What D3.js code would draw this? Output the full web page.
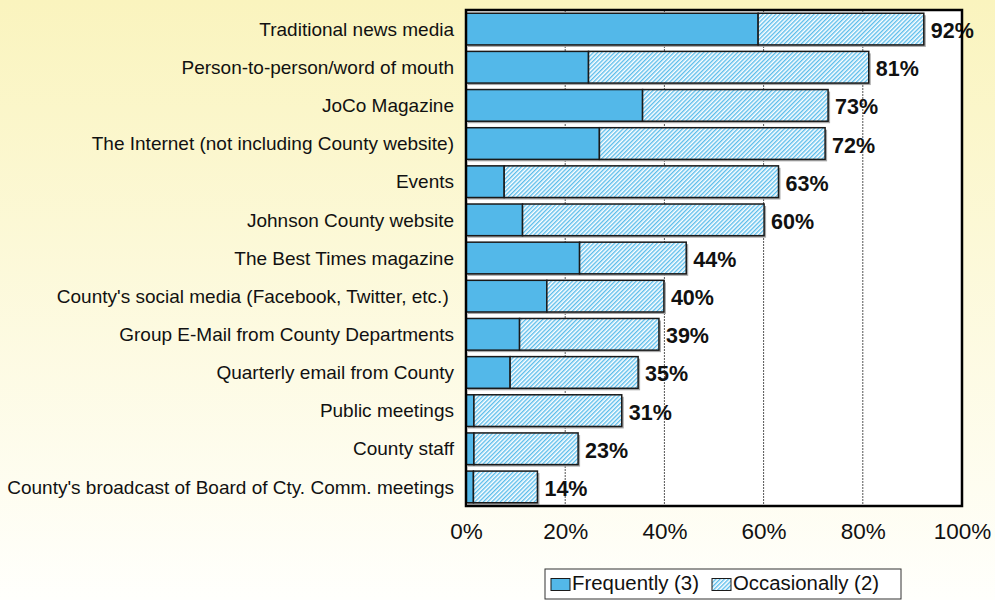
<!DOCTYPE html>
<html>
<head>
<meta charset="utf-8">
<script src="https://cdnjs.cloudflare.com/ajax/libs/d3/7.8.5/d3.min.js"></script>
<style>
  html, body { margin: 0; padding: 0; }
  body { width: 995px; height: 600px; overflow: hidden; }
  svg { display: block; }
  text { font-family: "Liberation Sans", Arial, sans-serif; }
</style>
</head>
<body>
<script>
const categories = [
  "Traditional news media",
  "Person-to-person/word of mouth",
  "JoCo Magazine",
  "The Internet (not including County website)",
  "Events",
  "Johnson County website",
  "The Best Times magazine",
  "County's social media (Facebook, Twitter, etc.) ",
  "Group E-Mail from County Departments",
  "Quarterly email from County",
  "Public meetings",
  "County staff",
  "County's broadcast of Board of Cty. Comm. meetings"
];
const frequently   = [58.9, 24.7, 35.6, 26.9, 7.7, 11.4, 22.9, 16.3, 10.8, 8.9, 1.6, 1.6, 1.5];
const occasionally = [33.4, 56.5, 37.4, 45.5, 55.3, 48.7, 21.5, 23.6, 28.1, 25.8, 29.8, 21.0, 12.9];
const xTicks = [0, 20, 40, 60, 80, 100];
const seriesNames = ["Frequently (3)", "Occasionally (2)"];

const W = 995, H = 600;
const plot = { left: 466, right: 962, top: 10, bottom: 506 };
const blue = "#53B8E9";

const svg = d3.select("body").append("svg").attr("width", W).attr("height", H);
const defs = svg.append("defs");

const bg = defs.append("linearGradient").attr("id", "bg").attr("x1", 0).attr("y1", 0).attr("x2", 0).attr("y2", 1);
bg.append("stop").attr("offset", "0%").attr("stop-color", "#FAF4BE");
bg.append("stop").attr("offset", "100%").attr("stop-color", "#FFFFFC");

const hatch = defs.append("pattern").attr("id", "hatch").attr("patternUnits", "userSpaceOnUse")
  .attr("width", 3).attr("height", 3).attr("patternTransform", "rotate(45)");
hatch.append("rect").attr("width", 3).attr("height", 3).attr("fill", "#ffffff");
hatch.append("rect").attr("width", 1.4).attr("height", 3).attr("fill", "#5BBDEB");

svg.append("rect").attr("width", W).attr("height", H).attr("fill", "url(#bg)");

const x = d3.scaleLinear().domain([0, 100]).range([plot.left, plot.right]);
const y = d3.scaleBand().domain(categories).range([plot.top, plot.bottom])
  .paddingInner(0.17).paddingOuter(0.085);

// plot background
svg.append("rect").attr("x", plot.left).attr("y", plot.top)
  .attr("width", plot.right - plot.left).attr("height", plot.bottom - plot.top).attr("fill", "#fff");

// gridlines
svg.append("g").selectAll("line").data(xTicks.slice(1, -1)).join("line")
  .attr("x1", d => x(d)).attr("x2", d => x(d))
  .attr("y1", plot.top).attr("y2", plot.bottom)
  .attr("stroke", "#555").attr("stroke-width", 1).attr("stroke-dasharray", "2,1");

const rows = categories.map((c, i) => ({ c, f: frequently[i], o: occasionally[i], t: frequently[i] + occasionally[i] }));

// shadows
svg.append("g").selectAll("rect").data(rows).join("rect")
  .attr("x", x(0) + 2).attr("y", d => y(d.c) + 2)
  .attr("width", d => x(d.t) - x(0)).attr("height", y.bandwidth())
  .attr("fill", "#a8a8a8");

// frequently
svg.append("g").selectAll("rect").data(rows).join("rect")
  .attr("x", x(0)).attr("y", d => y(d.c))
  .attr("width", d => x(d.f) - x(0)).attr("height", y.bandwidth())
  .attr("fill", blue).attr("stroke", "#1a1a1a").attr("stroke-width", 1.5);

// occasionally
svg.append("g").selectAll("rect").data(rows).join("rect")
  .attr("x", d => x(d.f)).attr("y", d => y(d.c))
  .attr("width", d => x(d.t) - x(d.f)).attr("height", y.bandwidth())
  .attr("fill", "url(#hatch)").attr("stroke", "#1a1a1a").attr("stroke-width", 1.5);

// value labels
svg.append("g").selectAll("text").data(rows).join("text")
  .attr("x", d => x(d.t) + 7).attr("y", d => y(d.c) + y.bandwidth() / 2 + 9)
  .attr("font-size", 21.5).attr("font-weight", "bold").attr("fill", "#111")
  .text(d => Math.round(d.t) + "%");

// frame
svg.append("rect").attr("x", plot.left).attr("y", plot.top)
  .attr("width", plot.right - plot.left).attr("height", plot.bottom - plot.top)
  .attr("fill", "none").attr("stroke", "#000").attr("stroke-width", 2.5);

// category axis labels
const yAxis = d3.axisLeft(y).tickSize(0).tickPadding(12);
const ya = svg.append("g").attr("transform", `translate(${plot.left},0)`).call(yAxis);
ya.select(".domain").remove();
ya.selectAll("text").attr("font-size", 19).attr("fill", "#111")
  .style("font-family", "'Liberation Sans', Arial, sans-serif")
  .style("white-space", "pre").attr("dy", "0.35em");

// x axis labels
const xAxis = d3.axisBottom(x).tickValues(xTicks).tickFormat(d => d + "%").tickSize(0).tickPadding(12);
const xa = svg.append("g").attr("transform", `translate(0,${plot.bottom})`).call(xAxis);
xa.select(".domain").remove();
xa.selectAll("text").attr("font-size", 22.5).attr("fill", "#111")
  .style("font-family", "'Liberation Sans', Arial, sans-serif").attr("dy", "0.95em");

// legend
const lg = svg.append("g");
lg.append("rect").attr("x", 545).attr("y", 569).attr("width", 356).attr("height", 30)
  .attr("fill", "#fff").attr("stroke", "#333").attr("stroke-width", 1);
const legendItems = [
  { name: seriesNames[0], fill: blue, sx: 551, tx: 572, tw: 127 },
  { name: seriesNames[1], fill: "url(#hatch)", sx: 712, tx: 733, tw: 146 }
];
legendItems.forEach(it => {
  lg.append("rect").attr("x", it.sx).attr("y", 578.5).attr("width", 19).attr("height", 12)
    .attr("fill", it.fill).attr("stroke", "#1a1a1a").attr("stroke-width", 1);
  lg.append("text").attr("x", it.tx).attr("y", 589.5).attr("font-size", 19.5).attr("fill", "#111")
    .attr("textLength", it.tw).attr("lengthAdjust", "spacingAndGlyphs").text(it.name);
});
</script>
</body>
</html>
